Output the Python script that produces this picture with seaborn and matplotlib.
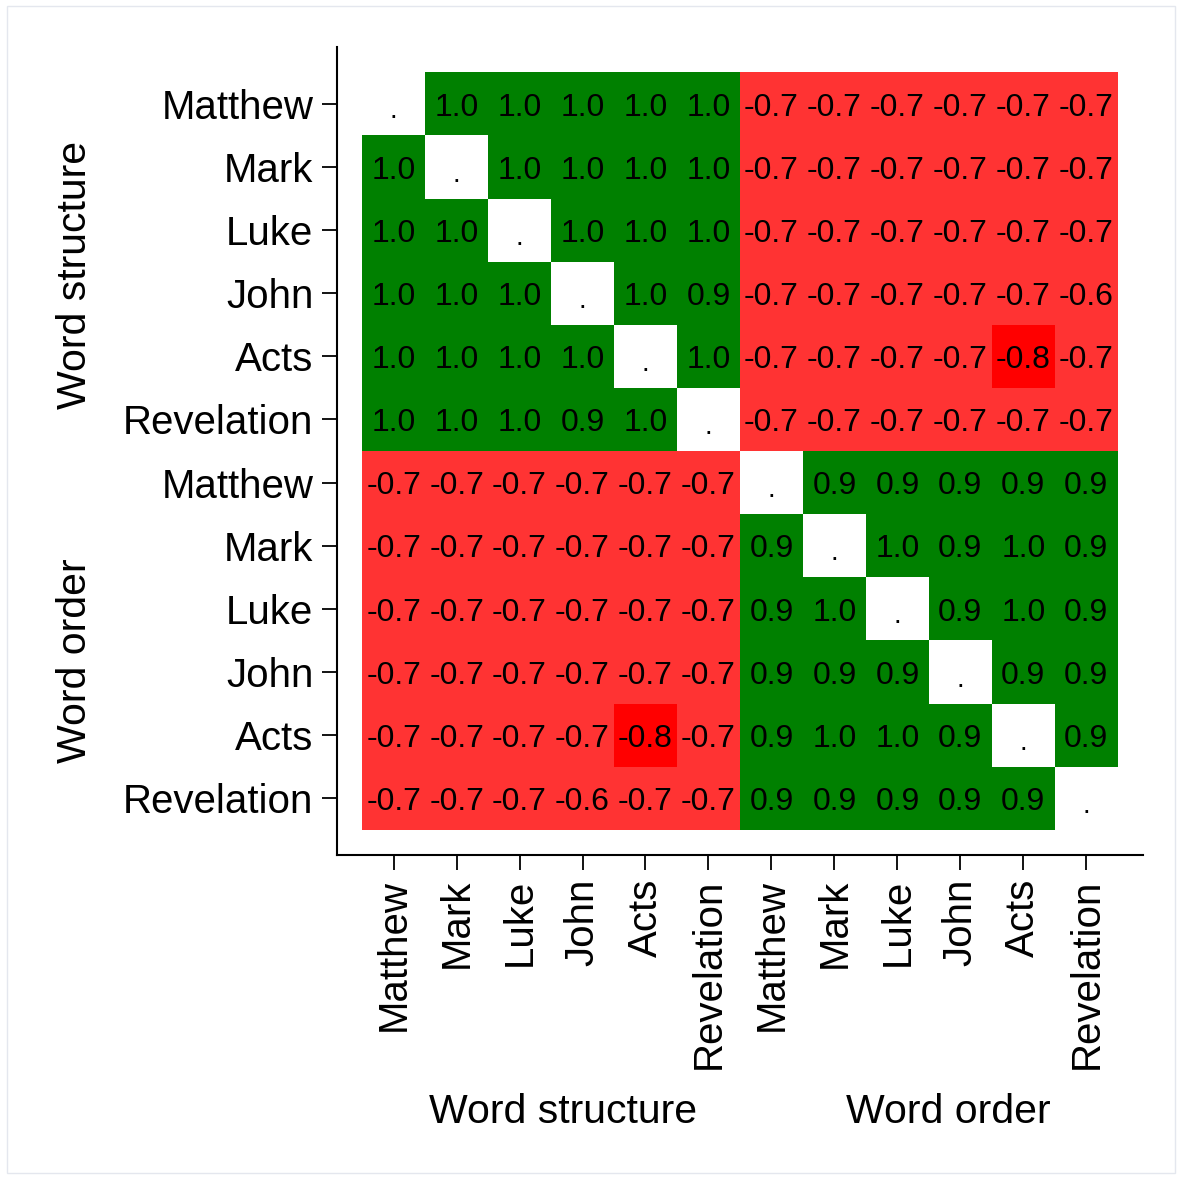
import numpy as np
import matplotlib
matplotlib.use("Agg")
import matplotlib.pyplot as plt
import matplotlib.transforms as mtransforms
import seaborn as sns
from matplotlib.colors import ListedColormap, BoundaryNorm
from matplotlib.patches import Rectangle

# books and the two measure groups
books = ["Matthew", "Mark", "Luke", "John", "Acts", "Revelation"]
groups = ["Word structure", "Word order"]

# word structure vs word structure (diagonal = missing)
ws_ws = [
    [np.nan, 1.0, 1.0, 1.0, 1.0, 1.0],
    [1.0, np.nan, 1.0, 1.0, 1.0, 1.0],
    [1.0, 1.0, np.nan, 1.0, 1.0, 1.0],
    [1.0, 1.0, 1.0, np.nan, 1.0, 0.9],
    [1.0, 1.0, 1.0, 1.0, np.nan, 1.0],
    [1.0, 1.0, 1.0, 0.9, 1.0, np.nan],
]
# word order vs word order
wo_wo = [
    [np.nan, 0.9, 0.9, 0.9, 0.9, 0.9],
    [0.9, np.nan, 1.0, 0.9, 1.0, 0.9],
    [0.9, 1.0, np.nan, 0.9, 1.0, 0.9],
    [0.9, 0.9, 0.9, np.nan, 0.9, 0.9],
    [0.9, 1.0, 1.0, 0.9, np.nan, 0.9],
    [0.9, 0.9, 0.9, 0.9, 0.9, np.nan],
]
# word structure (rows) vs word order (columns)
ws_wo = [
    [-0.7, -0.7, -0.7, -0.7, -0.7, -0.7],
    [-0.7, -0.7, -0.7, -0.7, -0.7, -0.7],
    [-0.7, -0.7, -0.7, -0.7, -0.7, -0.7],
    [-0.7, -0.7, -0.7, -0.7, -0.7, -0.6],
    [-0.7, -0.7, -0.7, -0.7, -0.8, -0.7],
    [-0.7, -0.7, -0.7, -0.7, -0.7, -0.7],
]

ws_ws = np.array(ws_ws)
wo_wo = np.array(wo_wo)
ws_wo = np.array(ws_wo)
corr = np.block([[ws_ws, ws_wo], [ws_wo.T, wo_wo]])
labels = books + books
n = len(labels)

annot = np.where(np.isnan(corr), "", np.vectorize(lambda v: f"{v:.1f}")(corr))

cmap = ListedColormap(["#ff0000", "#ff3333", "#008000"])
norm = BoundaryNorm([-1.0, -0.75, 0.0, 1.01], cmap.N)

plt.rcParams["font.family"] = ["Liberation Sans", "DejaVu Sans"]

fig = plt.figure(figsize=(11.81, 11.79), dpi=100)
ax = fig.add_axes([0.2853, 0.2748, 0.6825, 0.6853])

sns.heatmap(
    corr, ax=ax, cmap=cmap, norm=norm, annot=annot, fmt="",
    annot_kws={"fontsize": 23, "color": "black"},
    cbar=False, square=False, xticklabels=labels, yticklabels=labels,
)

# nudge the cell values down a little, like the original
for t in ax.texts:
    x, y = t.get_position()
    t.set_position((x, y + 0.06))

# diagonal cells show a dot for the missing value
for i in range(n):
    ax.text(i + 0.5, i + 0.62, ".", ha="center", va="center", fontsize=20, color="black")

ax.set_xlim(-0.4, n + 0.4)
ax.set_ylim(n + 0.4, -0.4)
for side in ["left", "bottom"]:
    ax.spines[side].set_visible(True)
    ax.spines[side].set_linewidth(1.5)
    ax.spines[side].set_color("black")
for side in ["top", "right"]:
    ax.spines[side].set_visible(False)

ax.tick_params(axis="both", length=11, width=1.3, color="black", labelsize=29, pad=6)
plt.setp(ax.get_xticklabels(), rotation=90)
plt.setp(ax.get_yticklabels(), rotation=0)
shift = mtransforms.ScaledTranslation(0, -4 / 100, fig.dpi_scale_trans)
for lab in ax.get_yticklabels():
    lab.set_transform(lab.get_transform() + shift)
ax.set_xlabel("")
ax.set_ylabel("")

# group titles
fig.text(75 / 1181, 1 - 275 / 1179, groups[0], rotation=90, ha="center", va="center", fontsize=29.5)
fig.text(75 / 1181, 1 - 661 / 1179, groups[1], rotation=90, ha="center", va="center", fontsize=29.5)
fig.text(563 / 1181, 1 - 1112 / 1179, groups[0], ha="center", va="center", fontsize=29.5)
fig.text(948 / 1181, 1 - 1112 / 1179, groups[1], ha="center", va="center", fontsize=29.5)

# faint outer frame
fig.patches.append(Rectangle((7 / 1181, 6 / 1179), 1168 / 1181, 1167 / 1179,
                             transform=fig.transFigure, fill=False,
                             edgecolor="#e4e7ee", linewidth=1))

fig.savefig("out.png", dpi=100)
